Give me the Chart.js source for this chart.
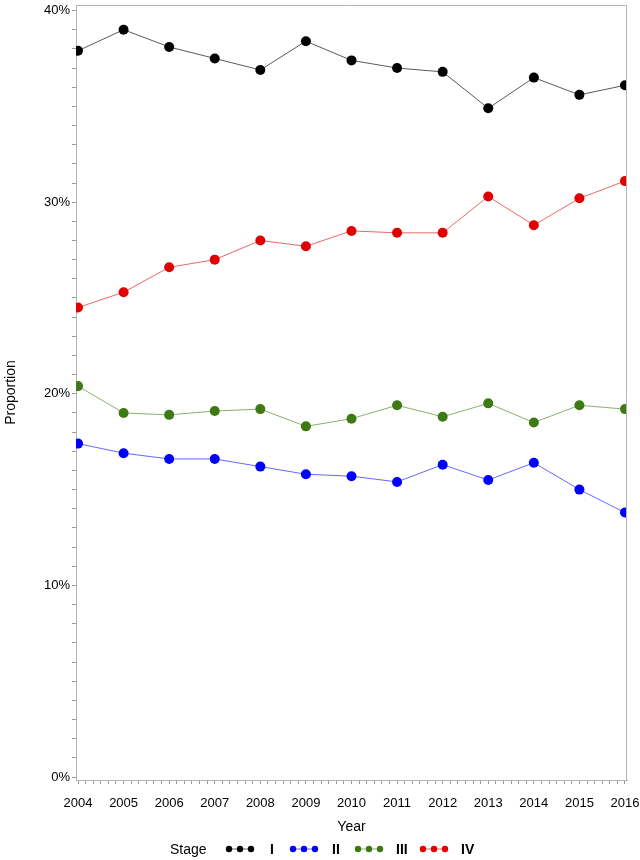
<!DOCTYPE html>
<html>
<head>
<meta charset="utf-8">
<script src="https://cdn.jsdelivr.net/npm/chart.js@4/dist/chart.umd.min.js"></script>
<style>
  html, body { margin: 0; padding: 0; background: #fff; }
  #wrap { position: relative; width: 640px; height: 860px; }
  #c { position: absolute; left: 0; top: 0; }
  .lg { position: absolute; top: 840px; height: 18px; line-height: 18px; font-family: "Liberation Sans", Arial, sans-serif; font-size: 14px; color: #000; white-space: nowrap; }
  .b { font-weight: bold; }
  .sym { position: absolute; top: 844px; }
</style>
</head>
<body>
<div id="wrap">
  <canvas id="c" width="640" height="860"></canvas>
  <div class="lg" style="left:170px;">Stage</div>
  <svg class="sym" style="left:225px;" width="30" height="10"><line x1="3" y1="5" x2="27" y2="5" stroke="rgba(0,0,0,0.6)" stroke-width="1"/><circle cx="4" cy="5" r="3.2" fill="#000"/><circle cx="15" cy="5" r="3.2" fill="#000"/><circle cx="26" cy="5" r="3.2" fill="#000"/></svg>
  <div class="lg b" style="left:270px;">I</div>
  <svg class="sym" style="left:289px;" width="30" height="10"><line x1="3" y1="5" x2="27" y2="5" stroke="rgba(0,0,255,0.6)" stroke-width="1"/><circle cx="4" cy="5" r="3.2" fill="#0000ff"/><circle cx="15" cy="5" r="3.2" fill="#0000ff"/><circle cx="26" cy="5" r="3.2" fill="#0000ff"/></svg>
  <div class="lg b" style="left:332px;">II</div>
  <svg class="sym" style="left:354px;" width="30" height="10"><line x1="3" y1="5" x2="27" y2="5" stroke="rgba(62,122,20,0.6)" stroke-width="1"/><circle cx="4" cy="5" r="3.2" fill="#3e7a14"/><circle cx="15" cy="5" r="3.2" fill="#3e7a14"/><circle cx="26" cy="5" r="3.2" fill="#3e7a14"/></svg>
  <div class="lg b" style="left:396px;">III</div>
  <svg class="sym" style="left:419px;" width="30" height="10"><line x1="3" y1="5" x2="27" y2="5" stroke="rgba(224,0,0,0.6)" stroke-width="1"/><circle cx="4" cy="5" r="3.2" fill="#e00000"/><circle cx="15" cy="5" r="3.2" fill="#e00000"/><circle cx="26" cy="5" r="3.2" fill="#e00000"/></svg>
  <div class="lg b" style="left:461px;">IV</div>
</div>
<script>
// ---- data ----
const years = [2004, 2005, 2006, 2007, 2008, 2009, 2010, 2011, 2012, 2013, 2014, 2015, 2016];
const stageI   = [37.9, 39.0, 38.1, 37.5, 36.9, 38.4, 37.4, 37.0, 36.8, 34.9, 36.5, 35.6, 36.1];
const stageII  = [17.4, 16.9, 16.6, 16.6, 16.2, 15.8, 15.7, 15.4, 16.3, 15.5, 16.4, 15.0, 13.8];
const stageIII = [20.4, 19.0, 18.9, 19.1, 19.2, 18.3, 18.7, 19.4, 18.8, 19.5, 18.5, 19.4, 19.2];
const stageIV  = [24.5, 25.3, 26.6, 27.0, 28.0, 27.7, 28.5, 28.4, 28.4, 30.3, 28.8, 30.2, 31.1];
const yTickLabels = [0, 10, 20, 30, 40];      // labelled y ticks (%)
const yMinorStep = 1;                          // minor y tick every 1%
const xMinorPerYear = 6;                       // minor x ticks per year

const FONT = '"Liberation Sans", Arial, sans-serif';

function pts(vals) { return years.map((y, i) => ({ x: y, y: vals[i] })); }

function ds(label, vals, line, mark) {
  return {
    label, data: pts(vals),
    borderColor: line, borderWidth: 1,
    pointRadius: 5, pointHoverRadius: 5,
    pointBackgroundColor: mark, pointBorderColor: mark, pointBorderWidth: 0,
    tension: 0, fill: false
  };
}

function noPad(scale) {
  scale.paddingTop = 0; scale.paddingBottom = 0;
  scale.paddingLeft = 0; scale.paddingRight = 0;
}

const framePlugin = {
  id: 'frame',
  afterDraw(chart) {
    const { ctx, chartArea: a } = chart;
    ctx.save();
    ctx.strokeStyle = '#b4b4b4';
    ctx.lineWidth = 1;
    ctx.beginPath();
    ctx.moveTo(Math.round(a.left) + 0.5, Math.round(a.top) + 0.5);
    ctx.lineTo(Math.round(a.right) - 0.5, Math.round(a.top) + 0.5);
    ctx.lineTo(Math.round(a.right) - 0.5, Math.round(a.bottom));
    ctx.stroke();
    ctx.restore();
  }
};

new Chart(document.getElementById('c'), {
  type: 'line',
  data: {
    datasets: [
      ds('I', stageI, 'rgba(0,0,0,0.65)', '#000000'),
      ds('II', stageII, 'rgba(0,0,255,0.6)', '#0000ff'),
      ds('III', stageIII, 'rgba(62,122,20,0.6)', '#3e7a14'),
      ds('IV', stageIV, 'rgba(224,0,0,0.6)', '#e00000')
    ]
  },
  options: {
    responsive: false,
    animation: false,
    devicePixelRatio: 1,
    layout: { padding: { top: 4, right: 13, left: 0, bottom: 0 } },
    plugins: { legend: { display: false }, tooltip: { enabled: false } },
    scales: {
      x: {
        type: 'linear',
        min: years[0] - 0.044,
        max: years[years.length - 1] + 0.044,
        afterBuildTicks(scale) {
          const t = [];
          for (let y = years[0]; y <= years[years.length - 1]; y++) {
            for (let k = 0; k < xMinorPerYear; k++) {
              const v = y + k / xMinorPerYear;
              if (v <= years[years.length - 1] + 1e-9) t.push({ value: v });
            }
          }
          scale.ticks = t;
        },
        afterFit(scale) { scale.height = 80; noPad(scale); },
        ticks: {
          autoSkip: false, maxRotation: 0, minRotation: 0, padding: 12,
          color: '#000', font: { family: FONT, size: 13 },
          callback(v) { return Math.abs(v - Math.round(v)) < 1e-6 ? String(Math.round(v)) : ''; }
        },
        grid: { drawOnChartArea: false, drawTicks: true, tickLength: 4, tickColor: '#9a9a9a' },
        border: { display: true, color: '#b4b4b4', width: 1 },
        title: { display: true, text: 'Year', color: '#000', font: { family: FONT, size: 14 }, padding: { top: 0, bottom: 24 } }
      },
      y: {
        type: 'linear',
        min: -0.156,
        max: 40.29,
        afterBuildTicks(scale) {
          const t = [];
          const top = yTickLabels[yTickLabels.length - 1];
          for (let v = yTickLabels[0]; v <= top + 1e-9; v += yMinorStep) t.push({ value: v });
          scale.ticks = t;
        },
        afterFit(scale) { scale.width = 76; noPad(scale); },
        ticks: {
          autoSkip: false, padding: 2,
          color: '#000', font: { family: FONT, size: 13 },
          callback(v) { return yTickLabels.includes(Math.round(v)) && Math.abs(v - Math.round(v)) < 1e-6 ? Math.round(v) + '%' : ''; }
        },
        grid: { drawOnChartArea: false, drawTicks: true, tickLength: 4, tickColor: '#9a9a9a' },
        border: { display: true, color: '#b4b4b4', width: 1 },
        title: { display: true, text: 'Proportion', color: '#000', font: { family: FONT, size: 14 }, padding: { top: 3, bottom: 0 } }
      }
    }
  },
  plugins: [framePlugin]
});
</script>
</body>
</html>
